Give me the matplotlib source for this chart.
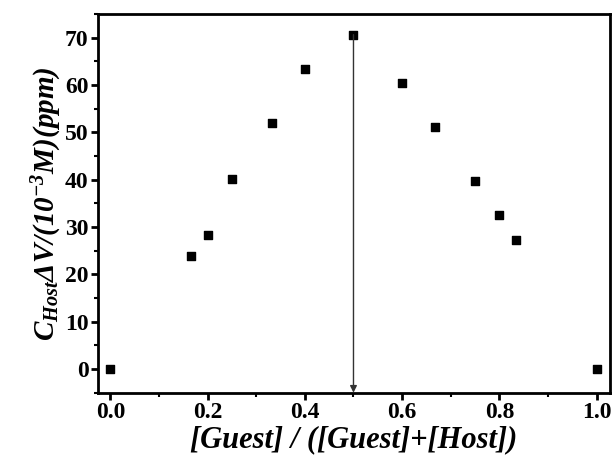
import numpy as np
import matplotlib.pyplot as plt
from matplotlib.ticker import MultipleLocator

plt.rcParams["font.family"] = ["Liberation Serif", "DejaVu Serif"]
plt.rcParams["font.weight"] = "bold"
plt.rcParams["mathtext.fontset"] = "custom"
plt.rcParams["mathtext.rm"] = "Liberation Serif:bold:italic"
plt.rcParams["mathtext.it"] = "Liberation Serif:bold:italic"
plt.rcParams["mathtext.bf"] = "Liberation Serif:bold:italic"

# mole fraction of guest vs. Job's plot value
mole_frac = [0.0, 1 / 6, 0.2, 0.25, 1 / 3, 0.4, 0.5, 0.6, 2 / 3, 0.75, 0.8, 5 / 6, 1.0]
job_value = [0.0, 23.8, 28.4, 40.1, 52.0, 63.3, 70.6, 60.3, 51.1, 39.7, 32.6, 27.3, 0.0]

fig, ax = plt.subplots(figsize=(6.14, 4.62), dpi=100)
ax.scatter(mole_frac, job_value, marker="s", s=26, color="black", zorder=3)

# vertical arrow marking the maximum
i_max = int(np.argmax(job_value))
ax.annotate("", xy=(mole_frac[i_max], -5), xytext=(mole_frac[i_max], job_value[i_max]),
            arrowprops=dict(arrowstyle="-|>", color="#333333", lw=1.0, mutation_scale=10,
                            shrinkA=0, shrinkB=0))

ax.set_xlim(-0.025, 1.027)
ax.set_ylim(-5, 75)
ax.xaxis.set_major_locator(MultipleLocator(0.2))
ax.xaxis.set_minor_locator(MultipleLocator(0.1))
ax.yaxis.set_major_locator(MultipleLocator(10))
ax.yaxis.set_minor_locator(MultipleLocator(5))
ax.xaxis.set_major_formatter(plt.FormatStrFormatter("%.1f"))
ax.tick_params(which="major", direction="out", length=5, width=2, labelsize=17, pad=2)
ax.tick_params(which="minor", direction="out", length=3, width=1.5)
for sp in ax.spines.values():
    sp.set_linewidth(2)

ax.set_xlabel("[Guest] / ([Guest]+[Host])", fontsize=22, fontstyle="italic",
              fontweight="bold", labelpad=1)
ax.set_ylabel(r"$C_{Host}\Delta V/(10^{-3}M)(ppm)$", fontsize=21, labelpad=1)

fig.subplots_adjust(left=0.16, right=0.993, top=0.97, bottom=0.15)
fig.savefig("out.png", dpi=100)
plt.close(fig)
